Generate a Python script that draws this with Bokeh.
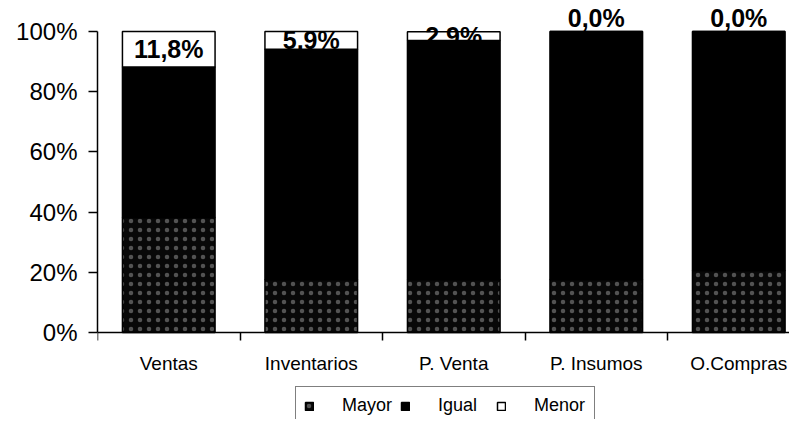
from bokeh.plotting import figure
from bokeh.models import ColumnDataSource, Range1d, FixedTicker, Legend, LegendItem
from bokeh.core.properties import value
from bokeh.embed import file_html
from bokeh.resources import INLINE

# ---- data (percent) ----
categories = ["Ventas", "Inventarios", "P. Venta", "P. Insumos", "O.Compras"]
mayor = [38.2, 17.6, 17.6, 17.6, 20.6]
igual = [50.0, 76.5, 79.4, 82.4, 79.4]
menor = [11.8, 5.9, 2.9, 0.0, 0.0]
series = ["Mayor", "Igual", "Menor"]
y_ticks = [0, 20, 40, 60, 80, 100]

xs = [i + 1 for i in range(len(categories))]
tops = [m + g + n for m, g, n in zip(mayor, igual, menor)]
lab_y = [t - n / 2 if n > 0 else t + 4.5 for t, n in zip(tops, menor)]
labels = [("%.1f%%" % n).replace(".", ",") for n in menor]

src = ColumnDataSource(dict(x=xs, Mayor=mayor, Igual=igual, Menor=menor,
                            lab_y=lab_y, lab=labels))

FONT = "Liberation Sans"

p = figure(width=789, height=419,
           x_range=Range1d(0.5, 5.356), y_range=Range1d(-28.9, 110.3),
           output_backend="svg", toolbar_location=None,
           min_border_left=97, min_border_right=0, min_border_top=0,
           min_border_bottom=0)
p.outline_line_color = None
p.grid.visible = False
p.background_fill_color = "white"
p.border_fill_color = "white"

rs = p.vbar_stack(series, x="x", width=0.65, source=src,
                  fill_color=["#080808", "black", "white"],
                  line_color="black", line_width=1.5,
                  hatch_pattern=["dot", "blank", "blank"],
                  hatch_color="white", hatch_alpha=0.3,
                  hatch_scale=9, hatch_weight=1.0)

p.text(x="x", y="lab_y", text="lab", source=src,
       text_font=value(FONT), text_font_style="bold", text_font_size="25px",
       text_align="center", text_baseline="middle", text_color="black")

# y axis
ya = p.yaxis[0]
ya.ticker = FixedTicker(ticks=y_ticks)
ya.major_label_overrides = {t: "%d%%" % t for t in y_ticks}
ya.bounds = (0, 100)
ya.axis_line_color = "black"
ya.axis_line_width = 1.5
ya.major_tick_out = 9
ya.major_tick_in = 0
ya.major_tick_line_width = 1.5
ya.minor_tick_out = 0
ya.minor_tick_in = 0
ya.major_label_text_font = FONT
ya.major_label_text_font_size = "24px"
ya.major_label_text_color = "black"
ya.major_label_standoff = 11

# x axis (drawn at y = 0 inside the frame)
xa = p.xaxis[0]
xa.fixed_location = 0
xa.ticker = FixedTicker(ticks=xs, minor_ticks=[x - 0.5 for x in xs] + [xs[-1] + 0.5])
xa.major_label_overrides = {x: c for x, c in zip(xs, categories)}
xa.axis_line_color = "black"
xa.axis_line_width = 1.5
xa.major_tick_out = 0
xa.major_tick_in = 0
xa.minor_tick_out = 8
xa.minor_tick_in = 0
xa.minor_tick_line_width = 1.5
xa.minor_tick_line_color = "black"
xa.major_label_text_font = FONT
xa.major_label_text_font_size = "19px"
xa.major_label_text_color = "black"
xa.major_label_standoff = 12

items = [LegendItem(label=s, renderers=[r]) for s, r in zip(series, rs)]
legend = Legend(items=items, orientation="horizontal", location=(198, -6),
                label_text_font=FONT, label_text_font_size="18px",
                label_text_color="black", label_width=52,
                glyph_width=10, glyph_height=10, label_standoff=28,
                spacing=6, padding=8, margin=0,
                border_line_color="black", border_line_width=1.2,
                background_fill_color="white", background_fill_alpha=1.0)
p.add_layout(legend)

open("out.html", "w").write(file_html(p, INLINE))
